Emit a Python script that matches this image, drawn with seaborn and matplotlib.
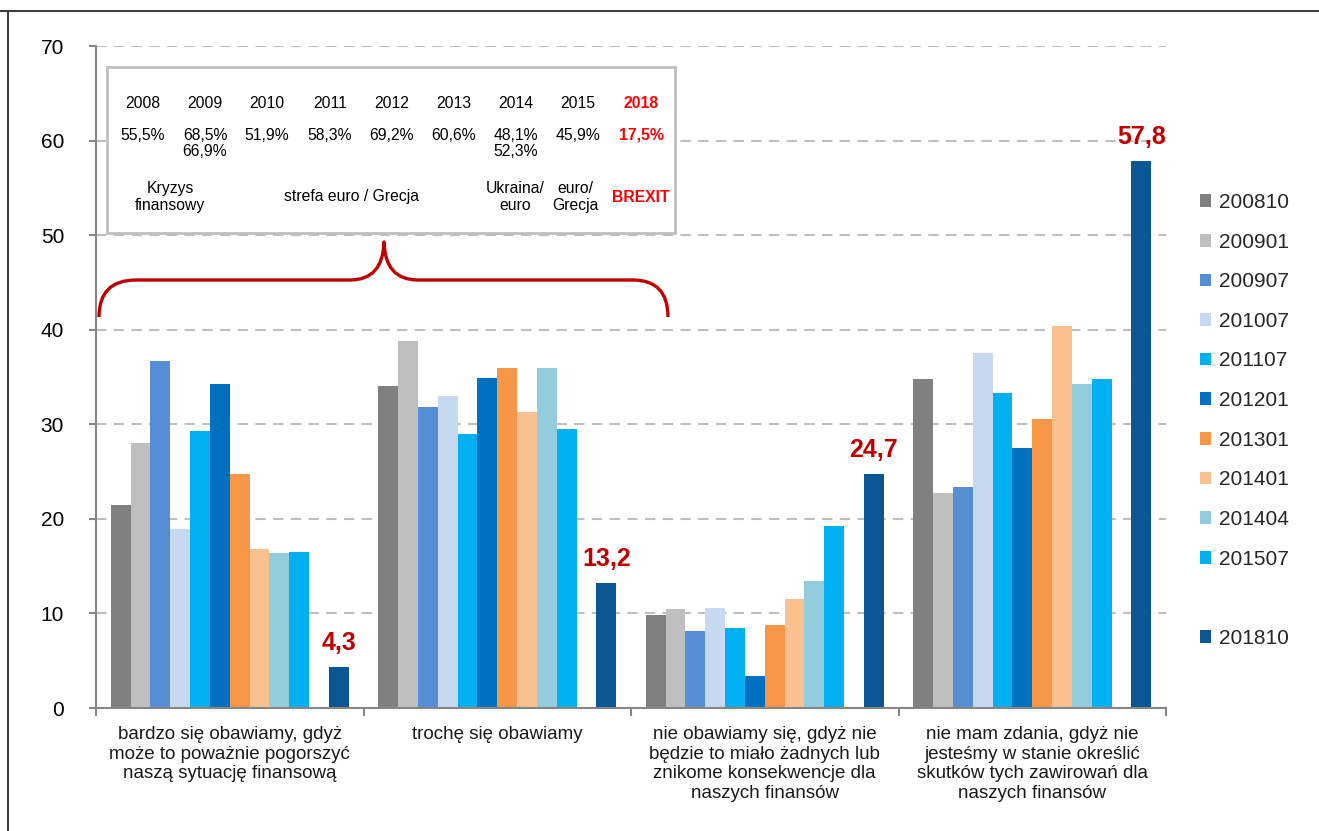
import matplotlib
matplotlib.use("Agg")
import matplotlib.pyplot as plt
from matplotlib import font_manager
from matplotlib.patches import Rectangle, Patch, PathPatch
from matplotlib.path import Path
from matplotlib.lines import Line2D
from matplotlib.ticker import FixedLocator, NullFormatter
import seaborn as sns
import pandas as pd

# ---------------- data ----------------
categories = [
    "bardzo się obawiamy, gdyż\nmoże to poważnie pogorszyć\nnaszą sytuację finansową",
    "trochę się obawiamy",
    "nie obawiamy się, gdyż nie\nbędzie to miało żadnych lub\nznikome konsekwencje dla\nnaszych finansów",
    "nie mam zdania, gdyż nie\njesteśmy w stanie określić\nskutków tych zawirowań dla\nnaszych finansów",
]
periods = ["200810", "200901", "200907", "201007", "201107", "201201",
           "201301", "201401", "201404", "201507", "201810"]
v200810 = [21.5, 34.0, 9.8, 34.8]
v200901 = [28.0, 38.8, 10.5, 22.7]
v200907 = [36.7, 31.8, 8.1, 23.4]
v201007 = [18.9, 33.0, 10.6, 37.5]
v201107 = [29.3, 29.0, 8.5, 33.3]
v201201 = [34.3, 34.9, 3.4, 27.5]
v201301 = [24.7, 35.9, 8.8, 30.6]
v201401 = [16.8, 31.3, 11.5, 40.4]
v201404 = [16.4, 35.9, 13.4, 34.3]
v201507 = [16.5, 29.5, 19.2, 34.8]
v201810 = [4.3, 13.2, 24.7, 57.8]
series = [v200810, v200901, v200907, v201007, v201107, v201201,
          v201301, v201401, v201404, v201507, v201810]

colors = ["#808080", "#BFBFBF", "#558ED5", "#C6D9F1", "#00B0F0", "#0070C0",
          "#F79646", "#FAC090", "#93CDDD", "#00B0F0", "#0B5794"]

inset_years = ["2008", "2009", "2010", "2011", "2012", "2013", "2014", "2015", "2018"]
inset_pcts = ["55,5%", "68,5%\n66,9%", "51,9%", "58,3%", "69,2%", "60,6%",
              "48,1%\n52,3%", "45,9%", "17,5%"]
inset_events = ["Kryzys\nfinansowy", "strefa euro / Grecja", "Ukraina/\neuro",
                "euro/\nGrecja", "BREXIT"]

# ---------------- frame ----------------
rows = []
for p, vals in zip(periods, series):
    for c, v in zip(categories, vals):
        rows.append({"cat": c, "period": p, "value": v})
df = pd.DataFrame(rows)

GAP = " "
hue_order = periods[:10] + [GAP] + periods[10:]
palette = dict(zip(periods, colors))
palette[GAP] = "#FFFFFF"

W, H = 1319, 831
def fx(px):
    return px / W
def fy(py):
    return 1 - py / H

sns.set_theme(style="white")
plt.rcParams["font.family"] = ["Liberation Sans", "DejaVu Sans"]

fig = plt.figure(figsize=(W / 100, H / 100), dpi=100)
ax = fig.add_axes([fx(96), fy(708), fx(1166) - fx(96), fy(46) - fy(708)])

sns.barplot(data=df, x="cat", y="value", hue="period", hue_order=hue_order,
            order=categories, palette=palette, width=0.89, gap=0,
            linewidth=0, saturation=1, legend=False, ax=ax)

ax.set_xlim(-0.5, 3.5)
ax.set_ylim(0, 70)
ax.set_yticks(range(0, 71, 10))
ax.set_xlabel("")
ax.set_ylabel("")

# grid
ax.yaxis.grid(True, color="#BFBFBF", linestyle=(0, (5, 3.5)), linewidth=1.5)
ax.set_axisbelow(True)

for s in ["top", "right"]:
    ax.spines[s].set_visible(False)
for s in ["left", "bottom"]:
    ax.spines[s].set_color("#868686")
    ax.spines[s].set_linewidth(1.5)

ax.tick_params(axis="y", left=True, length=5, width=1.5, color="#868686",
               labelsize=15, pad=18, labelcolor="black")
ax.tick_params(axis="x", which="major", length=0, pad=13, labelsize=13.5,
               labelcolor="#1a1a1a")
ax.xaxis.set_minor_locator(FixedLocator([-0.5, 0.5, 1.5, 2.5, 3.5]))
ax.xaxis.set_minor_formatter(NullFormatter())
ax.tick_params(axis="x", which="minor", bottom=True, length=6, width=1.5,
               color="#868686", direction="out")
for lab in ax.get_xticklabels():
    lab.set_linespacing(1.2)

# value labels on the 2018 bars (last hue level drawn)
last = ax.containers[-1]
ax.bar_label(last, labels=[f"{v:.1f}".replace(".", ",") for v in v201810],
             padding=9, color="#C00000", fontsize=18, fontweight="bold")

# legend
handles = []
for p, c in zip(periods[:10], colors[:10]):
    handles.append(Patch(facecolor=c, edgecolor="none", label=p))
handles.append(Patch(facecolor="none", edgecolor="none", label=""))
handles.append(Patch(facecolor=colors[10], edgecolor="none", label=periods[10]))
fig.legend(handles=handles, loc="upper left", bbox_to_anchor=(fx(1200), fy(193)),
           frameon=False, fontsize=15, handlelength=0.55, handleheight=0.55,
           handletextpad=0.35, labelspacing=0.99, borderpad=0, borderaxespad=0)

# inset box
fig.add_artist(Rectangle((fx(107), fy(233)), fx(675) - fx(107), fy(67) - fy(233),
                         transform=fig.transFigure, facecolor="white",
                         edgecolor="#BFBFBF", linewidth=2, zorder=5))

narrow_ok = True
try:
    font_manager.findfont("Liberation Sans Narrow", fallback_to_default=False)
except Exception:
    narrow_ok = False
if narrow_ok:
    ifam = ["Liberation Sans Narrow", "Liberation Sans"]
    isize = 12.5
else:
    ifam = ["Liberation Sans", "DejaVu Sans"]
    isize = 11.3

col_x = [143, 205, 267, 330, 392, 454, 516, 578, 641]
for i, (yr, pc) in enumerate(zip(inset_years, inset_pcts)):
    red = yr == "2018"
    fig.text(fx(col_x[i]), fy(103), yr, ha="center", va="center",
             family=ifam, fontsize=isize, color="#FF0000" if red else "black",
             fontweight="bold" if red else "normal", zorder=6)
    fig.text(fx(col_x[i]), fy(128), pc, ha="center", va="top",
             family=ifam, fontsize=isize, color="#FF0000" if red else "black",
             fontweight="bold" if red else "normal", linespacing=1.1, zorder=6)

ev_x = [170, 352, 515, 575, 641]
for i, ev in enumerate(inset_events):
    red = ev == "BREXIT"
    fig.text(fx(ev_x[i]), fy(197), ev, ha="center", va="center",
             family=ifam, fontsize=isize, color="#FF0000" if red else "black",
             fontweight="bold" if red else "normal", linespacing=1.1, zorder=6)

# red brace
pts = [(99, 317), (99, 280), (136, 280),
       (350, 280),
       (383, 280), (384, 242),
       (385, 280), (418, 280),
       (633, 280),
       (668, 280), (668, 317)]
codes = [Path.MOVETO, Path.CURVE3, Path.CURVE3,
         Path.LINETO,
         Path.CURVE3, Path.CURVE3,
         Path.CURVE3, Path.CURVE3,
         Path.LINETO,
         Path.CURVE3, Path.CURVE3]
path = Path([(fx(a), fy(b)) for a, b in pts], codes)
fig.add_artist(PathPatch(path, transform=fig.transFigure, facecolor="none",
                         edgecolor="#C00000", linewidth=2.4, capstyle="butt",
                         joinstyle="round", zorder=6))

# outer frame lines
fig.add_artist(Line2D([0, 1], [fy(11), fy(11)], transform=fig.transFigure,
                      color="#404040", linewidth=1.5))
fig.add_artist(Line2D([fx(7.5), fx(7.5)], [fy(11), 0], transform=fig.transFigure,
                      color="#404040", linewidth=1.5))

fig.savefig("out.png", dpi=100, facecolor="white")
